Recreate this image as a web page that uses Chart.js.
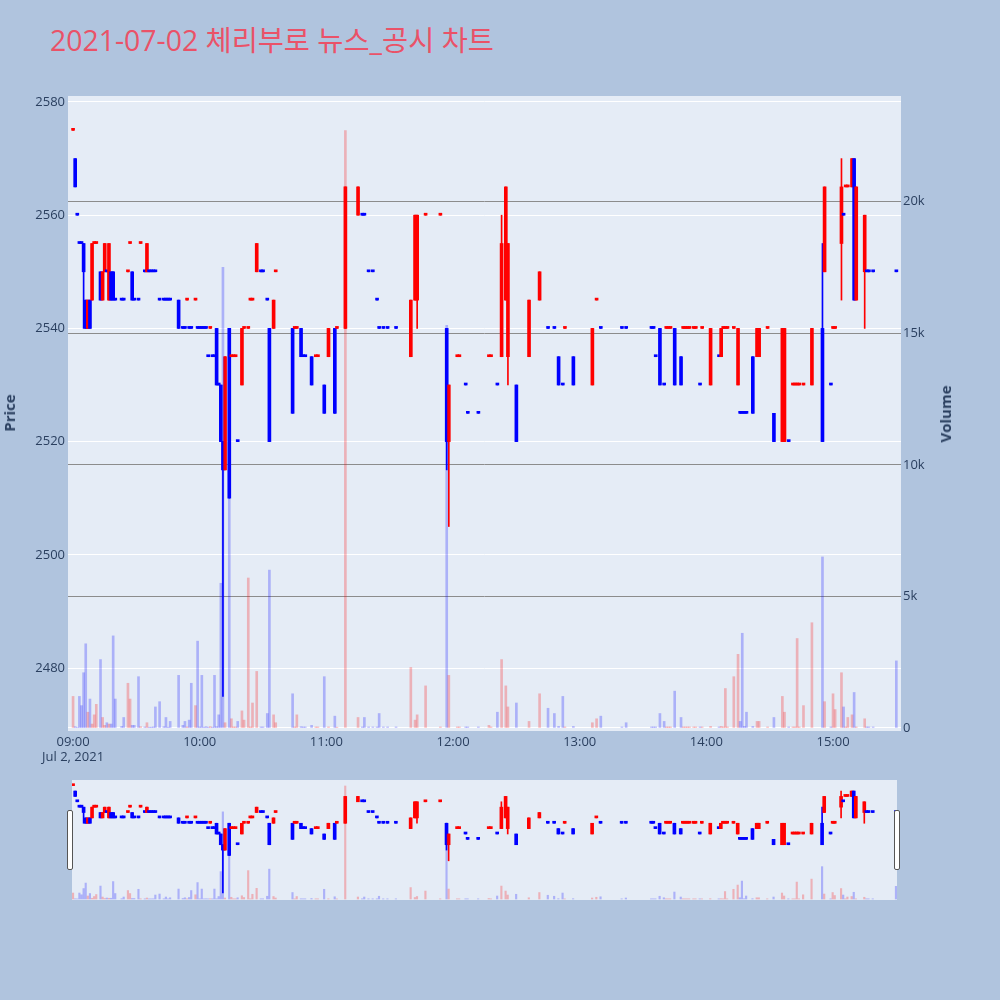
<!DOCTYPE html>
<html>
<head>
<meta charset="utf-8">
<script src="https://cdn.jsdelivr.net/npm/chart.js@4.4.0/dist/chart.umd.min.js"></script>
<style>
html,body{margin:0;padding:0;background:#B0C4DE;}
#wrap{position:relative;width:1000px;height:1000px;background:#B0C4DE;overflow:hidden;}
#title{position:absolute;left:50px;top:26px;font-family:"Open Sans","Noto Sans CJK KR",sans-serif;font-size:28.4px;line-height:28.4px;color:rgb(234,82,104);white-space:nowrap;}
#main{position:absolute;left:0;top:0;}
#slider{position:absolute;left:72px;top:780px;background:#E5ECF6;}
.axt{position:absolute;font-family:"Open Sans",sans-serif;font-weight:bold;font-size:15px;color:#2a3f5f;transform:translate(-50%,-50%) rotate(-90deg);white-space:nowrap;}
.handle{position:absolute;top:810px;width:4px;height:58px;background:#fff;border:1px solid #555;border-radius:2px;}
</style>
</head>
<body>
<div id="wrap">
<div id="title">2021-07-02 체리부로 뉴스_공시 차트</div>
<canvas id="main" width="1000" height="1000"></canvas>
<canvas id="slider" width="825" height="120"></canvas>
<div class="handle" style="left:67px"></div>
<div class="handle" style="left:894px"></div>
<div class="axt" style="left:9px;top:413px">Price</div>
<div class="axt" style="left:945px;top:414px">Volume</div>
</div>
<script>
const times = [
"09:00","09:01","09:02","09:03","09:04","09:05","09:06","09:07","09:08","09:09",
"09:10","09:11","09:13","09:14","09:15","09:16","09:17","09:18","09:19","09:20",
"09:23","09:24","09:26","09:27","09:28","09:29","09:31","09:32","09:34","09:35",
"09:36","09:37","09:38","09:39","09:41","09:43","09:44","09:45","09:46","09:50",
"09:52","09:53","09:54","09:55","09:56","09:58","09:59","10:00","10:01","10:02",
"10:03","10:04","10:05","10:06","10:07","10:08","10:09","10:10","10:11","10:12",
"10:14","10:15","10:16","10:17","10:18","10:20","10:21","10:23","10:24","10:25",
"10:27","10:29","10:30","10:32","10:33","10:35","10:36","10:44","10:45","10:46",
"10:48","10:49","10:50","10:53","10:55","10:56","10:59","11:01","11:04","11:05",
"11:09","11:15","11:17","11:18","11:20","11:22","11:24","11:25","11:27","11:29",
"11:33","11:40","11:42","11:43","11:47","11:54","11:57","11:58","12:02","12:03",
"12:06","12:07","12:12","12:17","12:18","12:21","12:23","12:25","12:26","12:30",
"12:36","12:41","12:45","12:48","12:50","12:52","12:53","12:57","13:06","13:08",
"13:10","13:20","13:22","13:34","13:35","13:36","13:38","13:40","13:41","13:42",
"13:43","13:45","13:48","13:49","13:50","13:51","13:52","13:54","13:55","13:57",
"13:58","14:02","14:06","14:07","14:08","14:09","14:10","14:13","14:15","14:16",
"14:17","14:18","14:19","14:22","14:24","14:25","14:29","14:32","14:36","14:37",
"14:39","14:41","14:42","14:43","14:44","14:46","14:50","14:55","14:56","14:59",
"15:00","15:01","15:04","15:05","15:06","15:07","15:09","15:10","15:11","15:15",
"15:16","15:17","15:19","15:30"];

const openP = [
2575,2570,2560,2555,2555,2555,2545,2540,2545,2545,
2555,2555,2550,2545,2550,2550,2545,2550,2550,2545,
2545,2545,2550,2555,2550,2545,2545,2555,2550,2550,
2550,2550,2550,2550,2545,2545,2545,2545,2545,2545,
2540,2540,2545,2540,2540,2545,2540,2540,2540,2540,
2540,2535,2540,2535,2535,2540,2530,2530,2520,2515,
2540,2535,2535,2535,2520,2530,2540,2540,2545,2545,
2550,2550,2550,2545,2540,2540,2550,2540,2540,2540,
2540,2535,2535,2535,2535,2535,2530,2535,2540,2540,
2540,2560,2560,2560,2550,2550,2545,2540,2540,2540,
2540,2535,2545,2545,2560,2560,2540,2520,2535,2535,
2530,2525,2525,2535,2535,2530,2535,2545,2535,2530,
2535,2545,2540,2540,2535,2530,2540,2535,2530,2545,
2540,2540,2540,2540,2540,2535,2540,2530,2540,2540,
2540,2540,2535,2540,2540,2540,2540,2540,2540,2530,
2540,2530,2535,2535,2540,2540,2540,2540,2530,2525,
2525,2525,2525,2535,2535,2535,2540,2525,2520,2520,
2520,2530,2530,2530,2530,2530,2530,2540,2550,2530,
2540,2540,2555,2560,2565,2565,2565,2570,2545,2550,
2550,2550,2550,2550];

const highP = [
2575,2570,2560,2555,2555,2555,2545,2545,2545,2555,
2555,2555,2550,2550,2555,2550,2555,2550,2550,2545,
2545,2545,2550,2555,2550,2545,2545,2555,2550,2555,
2550,2550,2550,2550,2545,2545,2545,2545,2545,2545,
2540,2540,2545,2540,2540,2545,2540,2540,2540,2540,
2540,2535,2540,2535,2535,2540,2530,2530,2520,2535,
2540,2535,2535,2535,2520,2540,2540,2540,2545,2545,
2555,2550,2550,2545,2540,2545,2550,2540,2540,2540,
2540,2535,2535,2535,2535,2535,2530,2540,2540,2540,
2565,2565,2560,2560,2550,2550,2545,2540,2540,2540,
2540,2545,2560,2560,2560,2560,2540,2530,2535,2535,
2530,2525,2525,2535,2535,2530,2560,2565,2555,2530,
2545,2550,2540,2540,2535,2530,2540,2535,2540,2545,
2540,2540,2540,2540,2540,2535,2540,2530,2540,2540,
2540,2540,2535,2540,2540,2540,2540,2540,2540,2530,
2540,2540,2535,2540,2540,2540,2540,2540,2540,2525,
2525,2525,2525,2535,2540,2540,2540,2525,2540,2540,
2520,2530,2530,2530,2530,2530,2540,2555,2565,2530,
2540,2540,2570,2560,2565,2565,2570,2570,2565,2560,
2550,2550,2550,2550];

const lowP = [
2575,2565,2560,2555,2555,2540,2540,2540,2540,2545,
2555,2555,2545,2545,2550,2550,2545,2545,2545,2545,
2545,2545,2550,2555,2545,2545,2545,2555,2550,2550,
2550,2550,2550,2550,2545,2545,2545,2545,2545,2540,
2540,2540,2545,2540,2540,2545,2540,2540,2540,2540,
2540,2535,2540,2535,2535,2530,2530,2520,2475,2515,
2510,2535,2535,2535,2520,2530,2540,2540,2545,2545,
2550,2550,2550,2545,2520,2540,2550,2525,2540,2540,
2535,2535,2535,2530,2535,2535,2525,2535,2525,2540,
2540,2560,2560,2560,2550,2550,2545,2540,2540,2540,
2540,2535,2545,2540,2560,2560,2515,2505,2535,2535,
2530,2525,2525,2535,2535,2530,2535,2545,2530,2520,
2535,2545,2540,2540,2530,2530,2540,2530,2530,2545,
2540,2540,2540,2540,2540,2535,2530,2530,2540,2540,
2540,2530,2530,2540,2540,2540,2540,2540,2540,2530,
2540,2530,2535,2535,2540,2540,2540,2540,2530,2525,
2525,2525,2525,2525,2535,2535,2540,2520,2520,2520,
2520,2530,2530,2530,2530,2530,2530,2520,2550,2530,
2540,2540,2545,2560,2565,2565,2565,2545,2545,2540,
2550,2550,2550,2550];

const closeP = [
2575,2565,2560,2555,2555,2550,2540,2545,2540,2555,
2555,2555,2545,2550,2555,2550,2555,2545,2545,2545,
2545,2545,2550,2555,2545,2545,2545,2555,2550,2555,
2550,2550,2550,2550,2545,2545,2545,2545,2545,2540,
2540,2540,2545,2540,2540,2545,2540,2540,2540,2540,
2540,2535,2540,2535,2535,2530,2530,2520,2515,2535,
2510,2535,2535,2535,2520,2540,2540,2540,2545,2545,
2555,2550,2550,2545,2520,2545,2550,2525,2540,2540,
2535,2535,2535,2530,2535,2535,2525,2540,2525,2540,
2565,2565,2560,2560,2550,2550,2545,2540,2540,2540,
2540,2545,2560,2560,2560,2560,2520,2530,2535,2535,
2530,2525,2525,2535,2535,2530,2555,2565,2555,2520,
2545,2550,2540,2540,2530,2530,2540,2530,2540,2545,
2540,2540,2540,2540,2540,2535,2530,2530,2540,2540,
2540,2530,2530,2540,2540,2540,2540,2540,2540,2530,
2540,2540,2535,2540,2540,2540,2540,2540,2540,2525,
2525,2525,2525,2525,2540,2540,2540,2520,2540,2540,
2520,2530,2530,2530,2530,2530,2540,2520,2565,2530,
2540,2540,2565,2560,2565,2565,2570,2545,2565,2560,
2550,2550,2550,2550];

const volume = [
1200,50,20,1200,850,2100,3200,600,1100,150,
500,900,2600,400,100,200,150,150,3500,1100,
60,400,1700,1100,100,100,1950,50,40,200,
30,30,40,800,1000,50,400,30,250,2000,
100,250,40,300,1700,850,3300,40,2000,30,
50,30,50,30,2000,50,500,5500,17500,200,
8700,350,40,40,250,650,300,5700,40,950,
2150,40,40,550,6000,500,200,1300,40,500,
50,40,40,100,40,40,1950,40,450,30,
22700,400,40,400,40,40,40,550,40,40,
40,2300,300,500,1600,40,15300,2000,40,40,
40,40,40,100,40,600,2600,1600,800,950,
250,1300,750,550,60,1200,40,60,200,350,
450,40,200,40,40,40,550,250,40,40,
40,1400,400,40,40,40,40,40,40,40,
40,60,40,60,40,1500,40,1950,2800,250,
3600,60,600,60,250,250,40,400,1200,600,
40,40,40,3400,40,850,4000,6500,1000,40,
1300,700,2100,800,40,400,500,1350,40,350,
40,40,40,2550];

const xTickValues = [0,60,120,180,240,300,360];
const xTickLabels = ["09:00","10:00","11:00","12:00","13:00","14:00","15:00"];
const dateLabel = "Jul 2, 2021";
const priceTicks = [2480,2500,2520,2540,2560,2580];
const volumeTicks = [0,5000,10000,15000,20000];
const volumeTickLabels = ["0","5k","10k","15k","20k"];

// minutes after 09:00
const mins = times.map(t => { const [h,m] = t.split(':').map(Number); return (h-9)*60 + m; });
// direction: close vs open, ties resolved by previous close
const dirs = [];
let prevClose = null, prevDir = 1;
for (let i = 0; i < times.length; i++) {
  const o = openP[i], c = closeP[i];
  let d;
  if (c > o) d = 1; else if (c < o) d = -1;
  else if (prevClose === null) d = 1;
  else if (c > prevClose) d = 1; else if (c < prevClose) d = -1; else d = prevDir;
  dirs.push(d); prevClose = c; prevDir = d;
}
const UP = '#FF0000', DOWN = '#0000FF';
const UPV = 'rgba(255,0,0,0.25)', DOWNV = 'rgba(0,0,255,0.25)';

function buildDatasets(volThick, bodyThick) {
  return [
    { type:'bar', label:'Volume', yAxisID:'y1',
      data: mins.map((m,i) => ({x:m, y:volume[i]})),
      backgroundColor: dirs.map(d => d > 0 ? UPV : DOWNV),
      barThickness: volThick, grouped:false, order:0 },
    { type:'bar', label:'Wick', yAxisID:'y',
      data: mins.map((m,i) => ({x:m, y:[lowP[i], highP[i]]})),
      backgroundColor: dirs.map(d => d > 0 ? UP : DOWN),
      barThickness: 1, minBarLength: 1, grouped:false, order:2 },
    { type:'bar', label:'Body', yAxisID:'y',
      data: mins.map((m,i) => ({x:m, y:[openP[i], closeP[i]]})),
      backgroundColor: dirs.map(d => d > 0 ? UP : DOWN),
      barThickness: bodyThick, minBarLength: 2, grouped:false, order:1 }
  ];
}

const bgPlugin = { id:'plotbg', beforeDraw(chart) {
  const a = chart.chartArea, ctx = chart.ctx;
  ctx.save(); ctx.fillStyle = '#E5ECF6';
  ctx.fillRect(a.left, a.top, a.right - a.left, a.bottom - a.top);
  ctx.restore();
}};

const tickFont = { family: '"Open Sans", sans-serif', size: 13 };
const tickColor = '#2a3f5f';

new Chart(document.getElementById('main'), {
  type: 'bar',
  data: { datasets: buildDatasets(2, 3) },
  plugins: [bgPlugin],
  options: {
    responsive: false, animation: false, devicePixelRatio: 1,
    layout: { padding: { top: 96, left: 0, right: 0, bottom: 0 } },
    plugins: { legend: { display: false }, tooltip: { enabled: false } },
    scales: {
      x: {
        type: 'linear', position: 'bottom', min: -2.4, max: 392.2, offset: false,
        grid: { display: false, drawTicks: false }, border: { display: false },
        afterBuildTicks: s => { s.ticks = xTickValues.map(v => ({ value: v })); },
        afterFit: s => { s.height = 269; },
        ticks: {
          autoSkip: false, maxRotation: 0, padding: 3, font: tickFont, color: tickColor,
          callback: (v) => { const i = xTickValues.indexOf(v); const l = xTickLabels[i]; return i === 0 ? [l, dateLabel] : l; }
        }
      },
      y: {
        type: 'linear', position: 'left', min: 2468.87, max: 2581.06,
        grid: { color: '#ffffff', lineWidth: 1, drawTicks: false }, border: { display: false },
        afterBuildTicks: s => { s.ticks = priceTicks.map(v => ({ value: v })); },
        afterFit: s => { s.width = 68; },
        ticks: { padding: 3, font: tickFont, color: tickColor, callback: v => String(v) }
      },
      y1: {
        type: 'linear', position: 'right', min: -114, max: 24015,
        grid: { color: c => (c.tick && c.tick.value === 0) ? '#ffffff' : '#8c8c8c', lineWidth: 1, drawTicks: false },
        border: { display: false },
        afterBuildTicks: s => { s.ticks = volumeTicks.map(v => ({ value: v })); },
        afterFit: s => { s.width = 99; },
        ticks: { padding: 2, font: tickFont, color: tickColor,
          callback: v => volumeTickLabels[volumeTicks.indexOf(v)] }
      }
    }
  }
});

new Chart(document.getElementById('slider'), {
  type: 'bar',
  data: { datasets: buildDatasets(1.5, 3) },
  options: {
    responsive: false, animation: false, devicePixelRatio: 1,
    layout: { padding: 0 },
    plugins: { legend: { display: false }, tooltip: { enabled: false } },
    scales: {
      x: { type: 'linear', display: false, min: -0.5, max: 390.5, offset: false },
      y: { type: 'linear', display: false, min: 2468.5, max: 2580.3 },
      y1: { type: 'linear', display: false, min: -200, max: 23900 }
    }
  }
});
</script>
</body>
</html>
